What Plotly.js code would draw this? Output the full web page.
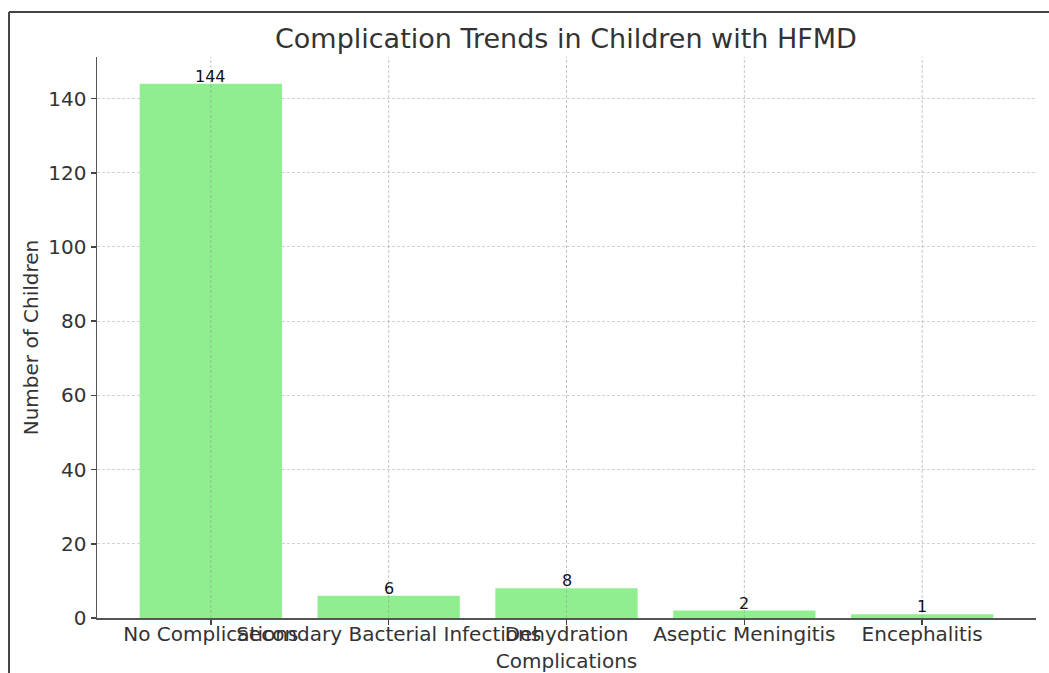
<!DOCTYPE html>
<html>
<head>
<meta charset="utf-8">
<script src="https://cdn.plot.ly/plotly-3.0.1.min.js"></script>
<style>html,body{margin:0;padding:0;background:#fff;}#chart{width:1049px;height:673px;}</style>
</head>
<body>
<div id="chart"></div>
<script>
const categories = ["No Complications", "Secondary Bacterial Infections", "Dehydration", "Aseptic Meningitis", "Encephalitis"];
const counts = [144, 6, 8, 2, 1];
const yTicks = [0, 20, 40, 60, 80, 100, 120, 140];

const FONT = "DejaVu Sans, sans-serif";
const TXT = "#333333";

const bars = {
  type: "bar",
  x: categories,
  y: counts,
  width: 0.8,
  marker: {color: "#90EE90", line: {width: 0}},
  hoverinfo: "x+y"
};

// value labels sitting on top of each bar
const annotations = categories.map((c, i) => ({
  x: c, y: counts[i], xref: "x", yref: "y",
  text: String(counts[i]), showarrow: false,
  xanchor: "center", yanchor: "bottom", yshift: -4,
  font: {family: FONT, size: 16, color: "#111"}
}));

const shapes = [];
// vertical dashed grid lines over the bars, one per category
categories.forEach(c => {
  shapes.push({type: "line", xref: "x", yref: "paper", x0: c, x1: c, y0: 0, y1: 1,
    line: {color: "rgba(150,150,150,0.55)", width: 1, dash: "3px,2px"}, layer: "above"});
});
// frame lines of the picture (top and left)
shapes.push({type: "line", xref: "paper", yref: "paper", x0: -0.0937, x1: 1.02, y0: 1.0802, y1: 1.0802,
  line: {color: "#444", width: 2}});
shapes.push({type: "line", xref: "paper", yref: "paper", x0: -0.0937, x1: -0.0937, y0: 1.0802, y1: -0.11,
  line: {color: "#444", width: 2}});

const layout = {
  width: 1049, height: 673,
  margin: {l: 97, r: 13, t: 57, b: 55, pad: 0},
  paper_bgcolor: "#fff", plot_bgcolor: "#fff",
  font: {family: FONT, color: TXT},
  title: {text: "Complication Trends in Children with HFMD", font: {family: FONT, size: 27, color: TXT},
    x: 0.5395, xanchor: "center", y: 0.942, yanchor: "middle"},
  showlegend: false,
  bargap: 0.2,
  xaxis: {
    type: "category", range: [-0.64, 4.64],
    tickangle: 0, ticks: "outside", ticklen: 5, tickwidth: 1.5, tickcolor: "#444",
    ticklabelstandoff: -8,
    tickfont: {family: FONT, size: 20, color: TXT},
    showline: true, linecolor: "#555", linewidth: 1.5,
    showgrid: false, zeroline: false,
    title: {text: "Complications", font: {family: FONT, size: 20, color: TXT}, standoff: 14},
    automargin: false
  },
  yaxis: {
    range: [0, 151.2], tickvals: yTicks, ticktext: yTicks.map(String),
    ticks: "outside", ticklen: 5, tickwidth: 1.5, tickcolor: "#444",
    tickfont: {family: FONT, size: 20, color: TXT},
    showline: true, linecolor: "#555", linewidth: 1.5,
    showgrid: true, gridcolor: "#d3d3d3", gridwidth: 1, griddash: "3px,2px",
    zeroline: false,
    title: {text: "Number of Children", font: {family: FONT, size: 20, color: TXT}, standoff: 4},
    automargin: false
  },
  annotations: annotations,
  shapes: shapes
};

Plotly.newPlot("chart", [bars], layout, {displayModeBar: false, staticPlot: true});
</script>
</body>
</html>
